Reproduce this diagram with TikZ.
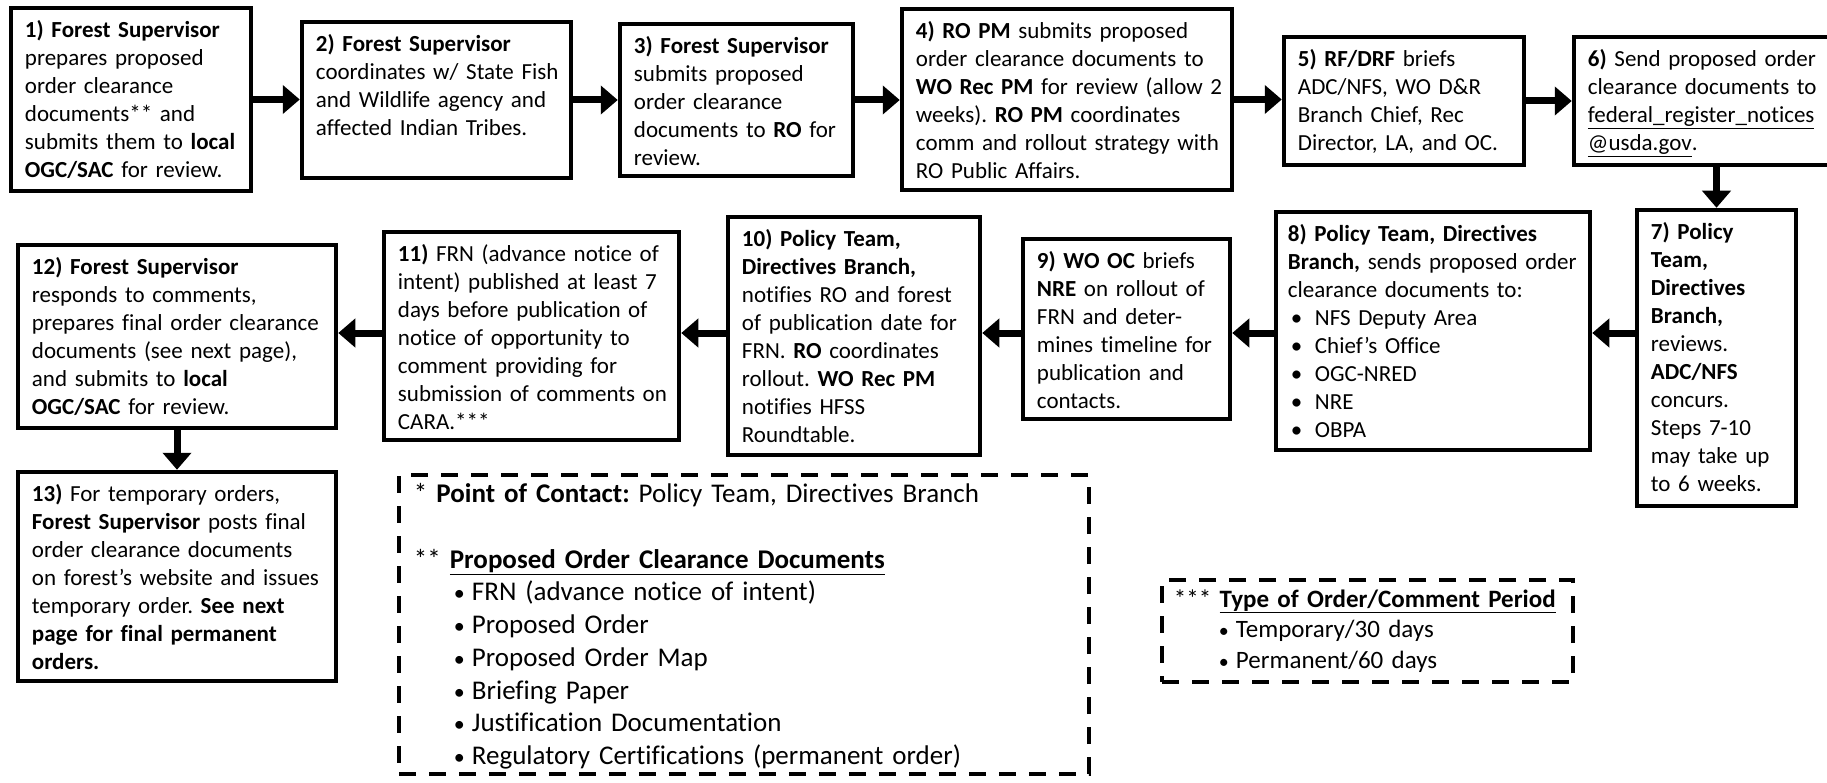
\documentclass[tikz,border=0pt]{standalone}
\usepackage{fontspec}
\setmainfont{Carlito}[Ligatures=NoCommon]
\usetikzlibrary{arrows.meta,fit}
\frenchspacing
\newcommand\blt{\hspace*{3pt}\makebox[24pt][l]{•}}
\newcommand\blb{\hspace*{40pt}\makebox[18pt][l]{\fontsize{22}{22}\selectfont •}}
\newcommand\bls{\hspace*{45pt}\makebox[17pt][l]{\fontsize{20}{20}\selectfont •}}
\begin{document}
\begin{tikzpicture}[x=1pt,y=-1pt,
  bx/.style={draw=black, line width=4.5pt, inner sep=0pt, rectangle},
  dbox/.style={draw=black, line width=4.5pt, inner sep=0pt, rectangle, dash pattern=on 17pt off 13pt},
  tx/.style={anchor=north west, inner sep=0pt, align=left, text width=#1, font=\fontsize{23}{28}\selectfont},
  arr/.style={line width=7pt, -{Triangle[length=17pt,width=28pt]}}]
\useasboundingbox (0,0) rectangle (1827,783);
\fill[white] (0,0) rectangle (1827,783);
% boxes
\node[bx, fit={(11,8) (251,191)}] (b1) {};
\node[bx, fit={(302,22) (571,178)}] (b2) {};
\node[bx, fit={(620,24) (853,176)}] (b3) {};
\node[bx, fit={(902,9) (1232,190)}] (b4) {};
\node[bx, fit={(1284,37) (1524,165)}] (b5) {};
\node[bx, fit={(1574,37) (1845,165)}] (b6) {};
\node[bx, fit={(1637,210) (1796,506)}] (b7) {};
\node[bx, fit={(1276,212) (1590,450)}] (b8) {};
\node[bx, fit={(1023,239) (1230,419)}] (b9) {};
\node[bx, fit={(728,217) (980,455)}] (b10) {};
\node[bx, fit={(384,232) (679,440)}] (b11) {};
\node[bx, fit={(18,245) (336,428)}] (b12) {};
\node[bx, fit={(18,472) (336,681)}] (b13) {};
\node[dbox, fit={(399,475) (1089,774)}] (d1) {};
\node[dbox, fit={(1162,580) (1573,682)}] (d2) {};
% texts
\node[tx=228pt] (t1) at ([shift={(16pt,-12pt)}]b1.north west) {\strut\textbf{1) Forest Supervisor}\\ prepares proposed\\ order clearance\\ documents** and\\ submits them to \textbf{local}\\ \textbf{OGC/SAC} for review.};
\node[tx=255pt] (t2) at ([shift={(16pt,-12pt)}]b2.north west) {\strut\textbf{2) Forest Supervisor}\\ coordinates w/ State Fish\\ and Wildlife agency and\\ affected Indian Tribes.};
\node[tx=220pt] (t3) at ([shift={(16pt,-12pt)}]b3.north west) {\strut\textbf{3) Forest Supervisor}\\ submits proposed\\ order clearance\\ documents to \textbf{RO} for\\ review.};
\node[tx=318pt] (t4) at ([shift={(16pt,-12pt)}]b4.north west) {\strut\textbf{4) RO PM} submits proposed\\ order clearance documents to\\ \textbf{WO Rec PM} for review (allow 2\\ weeks). \textbf{RO PM} coordinates\\ comm and rollout strategy with\\ RO Public Affairs.};
\node[tx=228pt] (t5) at ([shift={(16pt,-12pt)}]b5.north west) {\strut\textbf{5) RF/DRF} briefs\\ ADC/NFS, WO D\&R\\ Branch Chief, Rec\\ Director, LA, and OC.};
\node[tx=240pt] (t6) at ([shift={(16pt,-12pt)}]b6.north west) {\strut\textbf{6)} Send proposed order\\ clearance documents to\\ \underline{federal\_register\_notices}\\ \underline{@usda.gov}.};
\node[tx=150pt] (t7) at ([shift={(16pt,-12pt)}]b7.north west) {\strut\textbf{7) Policy}\\ \textbf{Team,}\\ \textbf{Directives}\\ \textbf{Branch,}\\ reviews.\\ \textbf{ADC/NFS}\\ concurs.\\ Steps 7-10\\ may take up\\ to 6 weeks.};
\node[tx=302pt] (t8) at ([shift={(14pt,-12pt)}]b8.north west) {\strut\textbf{8) Policy Team, Directives}\\ \textbf{Branch,} sends proposed order\\ clearance documents to:\\ \blt NFS Deputy Area\\ \blt Chief’s Office\\ \blt OGC-NRED\\ \blt NRE\\ \blt OBPA};
\node[tx=195pt] (t9) at ([shift={(16pt,-12pt)}]b9.north west) {\strut\textbf{9) WO OC} briefs\\ \textbf{NRE} on rollout of\\ FRN and deter-\\ mines timeline for\\ publication and\\ contacts.};
\node[tx=240pt] (t10) at ([shift={(16pt,-12pt)}]b10.north west) {\strut\textbf{10) Policy Team,}\\ \textbf{Directives Branch,}\\ notifies RO and forest\\ of publication date for\\ FRN. \textbf{RO} coordinates\\ rollout. \textbf{WO Rec PM}\\ notifies HFSS\\ Roundtable.};
\node[tx=283pt] (t11) at ([shift={(16pt,-12pt)}]b11.north west) {\strut\textbf{11)} FRN (advance notice of\\ intent) published at least 7\\ days before publication of\\ notice of opportunity to\\ comment providing for\\ submission of comments on\\ CARA.***};
\node[tx=303pt] (t12) at ([shift={(16pt,-12pt)}]b12.north west) {\strut\textbf{12) Forest Supervisor}\\ responds to comments,\\ prepares final order clearance\\ documents (see next page),\\ and submits to \textbf{local}\\ \textbf{OGC/SAC} for review.};
\node[tx=303pt] (t13) at ([shift={(16pt,-12pt)}]b13.north west) {\strut\textbf{13)} For temporary orders,\\ \textbf{Forest Supervisor} posts final\\ order clearance documents\\ on forest’s website and issues\\ temporary order. \textbf{See next}\\ \textbf{page for final permanent}\\ \textbf{orders.}};
\node[tx=670pt, font=\fontsize{27}{32.7}\selectfont] (td1) at ([shift={(17pt,-7pt)}]d1.north west) {\strut* \textbf{Point of Contact:} Policy Team, Directives Branch\\[32.7pt] ** \underline{\textbf{Proposed Order Clearance Documents}}\\ \blb FRN (advance notice of intent)\\ \blb Proposed Order\\ \blb Proposed Order Map\\ \blb Briefing Paper\\ \blb Justification Documentation\\ \blb Regulatory Certifications (permanent order)};
\node[tx=400pt, font=\fontsize{25}{30.5}\selectfont] (td2) at ([shift={(14pt,-8pt)}]d2.north west) {\strut*** \underline{\textbf{Type of Order/Comment Period}}\\ \bls Temporary/30 days\\ \bls Permanent/60 days};
% connectors
\coordinate (r2) at (0,333);
\draw[arr] (b1.east) -- (b1.east -| b2.west);
\draw[arr] (b2.east) -- (b2.east -| b3.west);
\draw[arr] (b3.east) -- (b3.east -| b4.west);
\draw[arr] (b4.east) -- (b4.east -| b5.west);
\draw[arr] (b5.east) -- (b5.east -| b6.west);
\draw[arr] (b6.south -| b7.north) -- (b7.north);
\draw[arr] (b7.west |- r2) -- (b8.east |- r2);
\draw[arr] (b8.west |- r2) -- (b9.east |- r2);
\draw[arr] (b9.west |- r2) -- (b10.east |- r2);
\draw[arr] (b10.west |- r2) -- (b11.east |- r2);
\draw[arr] (b11.west |- r2) -- (b12.east |- r2);
\draw[arr] (b12.south) -- (b13.north);
\end{tikzpicture}
\end{document}
